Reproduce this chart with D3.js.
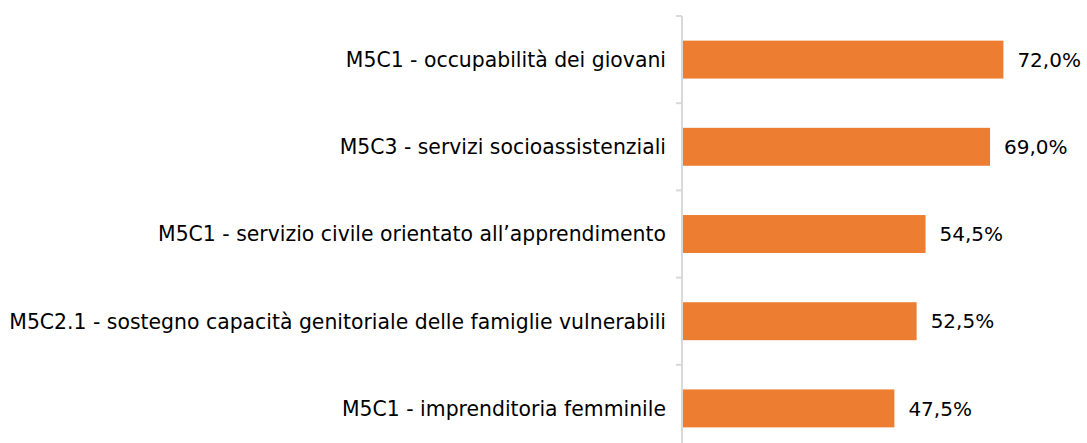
<!DOCTYPE html>
<html>
  <head>
    <meta charset="utf-8">
    <style>
      body, html { margin: 0; padding: 0; background: #fff; }
      text { font-family: 'DejaVu Sans', Verdana, sans-serif; fill: #000; }
    </style>
  </head>
  <body>
    <svg id="svg" width="1087" height="443"></svg>
    <script src="https://cdn.jsdelivr.net/npm/d3@7"></script>
    <script>
      const categories = [
        'M5C1 - occupabilità dei giovani',
        'M5C3 - servizi socioassistenziali',
        'M5C1 - servizio civile orientato all’apprendimento',
        'M5C2.1 - sostegno capacità genitoriale delle famiglie vulnerabili',
        'M5C1 - imprenditoria femminile'
      ];
      const values = [72.0, 69.0, 54.5, 52.5, 47.5];

      const axisX = 682;
      const svg = d3.select('#svg');
      const x = d3.scaleLinear().domain([0, 100]).range([axisX + 1, axisX + 1 + 445]);
      const y = d3.scaleBand().domain(categories).range([16, 16 + 5 * 87.2]).paddingInner(0.565).paddingOuter(0.2825);

      const bounds = d3.range(categories.length + 1).map((i) => 16 + i * y.step());

      // axis line and ticks between categories
      const ax = svg.append('g');
      ax.append('line')
        .attr('x1', axisX).attr('x2', axisX)
        .attr('y1', 16).attr('y2', 460)
        .attr('stroke', '#d9d9d9').attr('stroke-width', 2);
      ax.selectAll('.tick')
        .data(bounds)
        .enter()
        .append('line')
        .attr('x1', axisX - 6).attr('x2', axisX)
        .attr('y1', (d) => d).attr('y2', (d) => d)
        .attr('stroke', '#d9d9d9').attr('stroke-width', 2);

      svg.append('g')
        .selectAll('rect')
        .data(values)
        .enter()
        .append('rect')
        .attr('x', x(0))
        .attr('y', (d, i) => y(categories[i]))
        .attr('width', (d) => x(d) - x(0))
        .attr('height', y.bandwidth())
        .attr('fill', '#ED7D31');

      svg.append('g')
        .selectAll('text')
        .data(categories)
        .enter()
        .append('text')
        .text((d) => d)
        .attr('x', axisX - 16)
        .attr('y', (d) => y(d) + y.bandwidth() / 2)
        .attr('dy', '0.36em')
        .attr('text-anchor', 'end')
        .attr('font-size', 20.4);

      svg.append('g')
        .selectAll('text')
        .data(values)
        .enter()
        .append('text')
        .text((d) => d.toFixed(1).replace('.', ',') + '%')
        .attr('x', (d) => x(d) + 14)
        .attr('y', (d, i) => y(categories[i]) + y.bandwidth() / 2)
        .attr('dy', '0.36em')
        .attr('font-size', 20);
    </script>
  </body>
</html>
